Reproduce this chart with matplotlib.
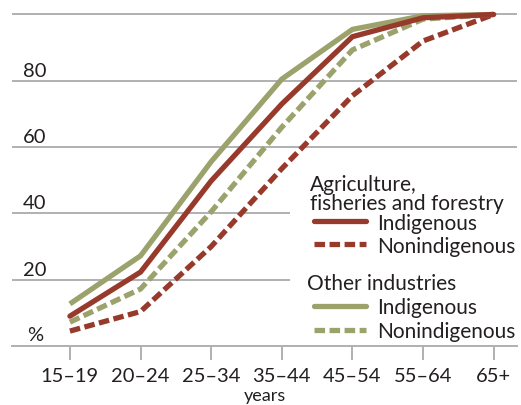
import matplotlib
matplotlib.use("Agg")
import matplotlib.pyplot as plt
from matplotlib.lines import Line2D
from matplotlib.patches import Rectangle
import matplotlib.transforms as mtransforms

plt.rcParams['font.family'] = ['Lato', 'DejaVu Sans']

categories = ["15–19", "20–24", "25–34", "35–44", "45–54", "55–64", "65+"]
agri_indigenous = [9.0, 22.3, 49.8, 73.0, 93.3, 99.0, 100]
agri_nonindigenous = [4.5, 10.4, 30.0, 53.5, 75.5, 92.0, 100]
other_indigenous = [12.7, 27.2, 55.6, 80.5, 95.5, 99.6, 100]
other_nonindigenous = [7.2, 17.2, 40.5, 66.0, 89.3, 98.6, 100]
y_labels = [20, 40, 60, 80]

RED = '#973a2c'
GREEN = '#9ba26b'
GRID = '#b0b0b0'
TXT = '#231f20'

W, H = 521, 406
fig = plt.figure(figsize=(W / 100, H / 100), dpi=100)
ax = fig.add_axes([12 / W, (H - 347) / H, (517 - 12) / W, (347 - 2.2) / H])

x = list(range(len(categories)))
lw = 3.8
dash = (0, (2.0, 0.85))
ax.plot(x, other_indigenous, color=GREEN, lw=lw, solid_capstyle='butt', zorder=4, clip_on=False)
ax.plot(x, other_nonindigenous, color=GREEN, lw=lw, linestyle=dash, dash_capstyle='butt', zorder=3, clip_on=False)
ax.plot(x, agri_nonindigenous, color=RED, lw=lw, linestyle=dash, dash_capstyle='butt', zorder=3, clip_on=False)
ax.plot(x, agri_indigenous, color=RED, lw=lw, solid_capstyle='round', zorder=5, clip_on=False)

ax.set_xlim(-0.82, 6.33)
ax.set_ylim(0, 104)

for v in y_labels + [100]:
    ax.axhline(v, color=GRID, lw=1.4, zorder=1)

for s in ['top', 'right', 'left']:
    ax.spines[s].set_visible(False)
ax.spines['bottom'].set_color(GRID)
ax.spines['bottom'].set_linewidth(1.4)
ax.set_yticks([])
ax.set_xticks(x)
ax.set_xticklabels(categories, fontsize=14.5, color=TXT)
ax.tick_params(axis='x', length=10, width=1.4, color=GRID, pad=5)
ax.set_xlabel("years", fontsize=13, color=TXT, labelpad=2)

trans = mtransforms.blended_transform_factory(ax.transAxes, ax.transData)
for v in y_labels:
    ax.text(0.021, v + 0.6, str(v), transform=trans, fontsize=14.5, color=TXT, ha='left', va='bottom')
ax.text(0.029, 0.8, "%", transform=trans, fontsize=14.5, color=TXT, ha='left', va='bottom')

# legend box (white background covering gridlines)
def fx(px):
    return (px - 12) / (517 - 12)

def fy(py):
    return (347 - py) / (347 - 2.2)

ax.add_patch(Rectangle((fx(290), fy(340)), fx(521) - fx(290), fy(162) - fy(340),
                       transform=ax.transAxes, facecolor='white', edgecolor='none',
                       zorder=2, clip_on=False))

fs_leg = 15
ax.text(fx(310), fy(191), "Agriculture,", transform=ax.transAxes, fontsize=fs_leg, color=TXT,
        ha='left', va='baseline', zorder=6)
ax.text(fx(310), fy(210), "fisheries and forestry", transform=ax.transAxes, fontsize=fs_leg, color=TXT,
        ha='left', va='baseline', zorder=6)
ax.text(fx(307), fy(290), "Other industries", transform=ax.transAxes, fontsize=fs_leg, color=TXT,
        ha='left', va='baseline', zorder=6)

entries = [
    (222, 230, RED, '-', "Indigenous"),
    (245, 253, RED, dash, "Nonindigenous"),
    (307, 314, GREEN, '-', "Indigenous"),
    (331, 338, GREEN, dash, "Nonindigenous"),
]
for ly, tb, col, ls, label in entries:
    ln = Line2D([fx(314), fx(366)], [fy(ly), fy(ly)], transform=ax.transAxes, color=col, lw=lw,
                linestyle=ls, solid_capstyle='round' if ls == '-' else 'butt',
                dash_capstyle='butt', zorder=6, clip_on=False)
    ax.add_line(ln)
    ax.text(fx(377), fy(tb), label, transform=ax.transAxes, fontsize=fs_leg, color=TXT,
            ha='left', va='baseline', zorder=6)

fig.savefig("out.png", dpi=100)
